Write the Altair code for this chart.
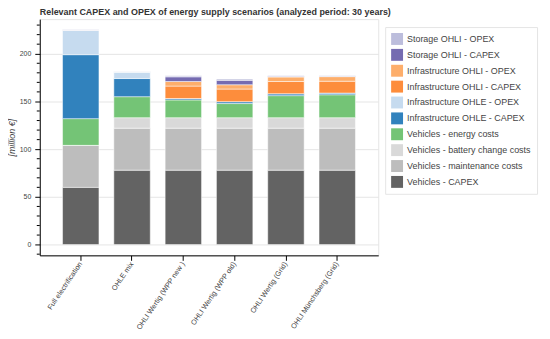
import altair as alt
import pandas as pd

categories = ["Full electrification", "OHLE mix", "OHLI Wertig (WPP new )",
              "OHLI Wertig (WPP old)", "OHLI Wertig (Grid)", "OHLI Münchsberg (Grid)"]

# stacked from bottom to top
series = ["Vehicles - CAPEX", "Vehicles - maintenance costs", "Vehicles - battery change costs",
          "Vehicles - energy costs", "Infrastructure OHLE - CAPEX", "Infrastructure OHLE - OPEX",
          "Infrastructure OHLI - CAPEX", "Infrastructure OHLI - OPEX",
          "Storage OHLI - CAPEX", "Storage OHLI - OPEX"]

veh_capex = [60, 78, 78, 78, 78, 78]
veh_maint = [44, 44, 44, 44, 44, 44]
veh_battery = [0, 11, 11, 11, 11, 11]
veh_energy = [28, 22, 18.6, 14.8, 23.1, 24]
ohle_capex = [67, 19, 1.4, 2, 2, 1.8]
ohle_opex = [25.6, 7, 0, 0, 0, 0]
ohli_capex = [0, 0, 13.1, 13.2, 12.8, 12.4]
ohli_opex = [0, 0, 4.8, 4.5, 4.8, 4.8]
storage_capex = [0, 0, 4.9, 4.6, 0.3, 0.3]
storage_opex = [0.4, 0.4, 1.0, 1.3, 0.8, 0.6]

colors = ["#636363", "#bdbdbd", "#d9d9d9", "#74c476", "#3182bd", "#c6dbef",
          "#fd8d3c", "#fdae6b", "#756bb1", "#bcbddc"]

y_major = [0, 50, 100, 150, 200]
y_minor = [-10, 10, 20, 30, 40, 60, 70, 80, 90, 110, 120, 130, 140,
           160, 170, 180, 190, 210, 220, 230]

values = [veh_capex, veh_maint, veh_battery, veh_energy, ohle_capex, ohle_opex,
          ohli_capex, ohli_opex, storage_capex, storage_opex]

rows = []
for i, (s, vals) in enumerate(zip(series, values)):
    for c, v in zip(categories, vals):
        rows.append({"scenario": c, "series": s, "value": v, "idx": i})
df = pd.DataFrame(rows)

legend_order = list(reversed(series))
legend_colors = list(reversed(colors))

FONT = "Liberation Sans"
TXT = "#444444"

yscale = alt.Scale(domain=[-11.25, 236.25], nice=False, zero=False)

bars = alt.Chart(df).mark_bar(stroke="white", strokeWidth=0.5).encode(
    x=alt.X("scenario:N", sort=categories,
            scale=alt.Scale(paddingInner=0.29, paddingOuter=0.444),
            axis=alt.Axis(title=None, labelAngle=-56, labelFontSize=7.3, labelColor=TXT,
                          labelFont=FONT, labelPadding=2, tickSize=5, tickColor="black",
                          domainColor="black", grid=False, labelLimit=200)),
    y=alt.Y("value:Q", stack="zero", scale=yscale,
            axis=alt.Axis(title="[million €]", values=y_major, grid=True, gridColor="#e5e5e5",
                          tickSize=5, tickColor="black", domainColor="black",
                          labelFontSize=7, labelColor=TXT, labelFont=FONT, labelPadding=4,
                          titleFont=FONT, titleFontSize=9, titleFontStyle="italic",
                          titleFontWeight="normal", titleColor=TXT, titleX=-25,
                          titleBaseline="alphabetic")),
    color=alt.Color("series:N", scale=alt.Scale(domain=legend_order, range=legend_colors),
                    legend=alt.Legend(title=None, orient="none", legendX=348, legendY=8,
                                      padding=6, strokeColor="#e5e5e5", fillColor="white",
                                      symbolType="square", symbolSize=144, symbolStrokeWidth=0,
                                      symbolOpacity=1, labelFontSize=9, labelFont=FONT,
                                      labelColor=TXT, labelOffset=4, rowPadding=4,
                                      labelLimit=300)),
    order=alt.Order("idx:Q", sort="ascending"),
)

minor = alt.Chart(pd.DataFrame({"t": y_minor})).mark_rule(color="black", strokeWidth=1).encode(
    y=alt.Y("t:Q", scale=yscale),
    x=alt.value(-3),
    x2=alt.value(0),
)

chart = alt.layer(bars, minor).properties(
    width=341, height=238,
    title=alt.TitleParams("Relevant CAPEX and OPEX of energy supply scenarios (analyzed period: 30 years)",
                          anchor="start", frame="group", fontSize=9, fontWeight="bold",
                          font=FONT, color="#333333", baseline="alphabetic", offset=5.5, dy=10),
    autosize=alt.AutoSizeParams(type="none"),
    padding={"left": 32, "top": 10, "right": 165, "bottom": 75},
).configure_view(stroke="#e5e5e5")

chart.save("out.html", embed_options={"renderer": "svg", "actions": False})
